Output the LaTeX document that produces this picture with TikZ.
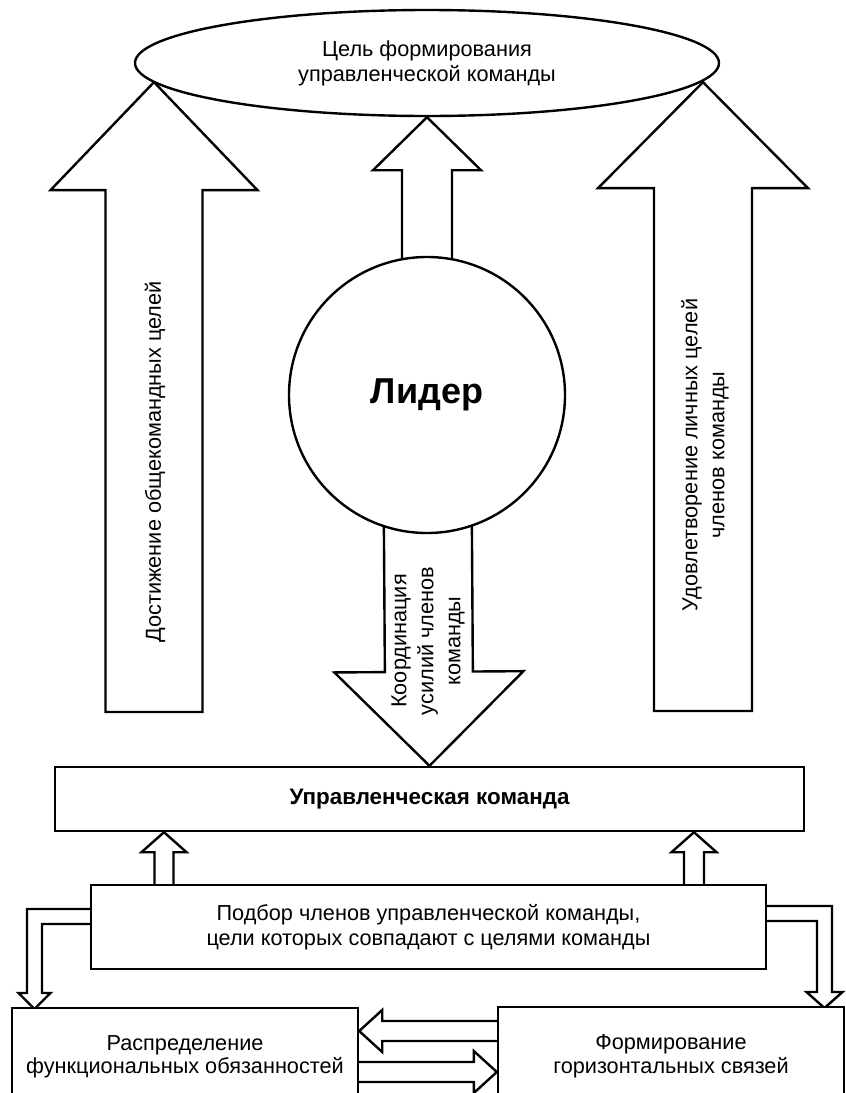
\documentclass[tikz,border=0pt]{standalone}
\usepackage{fontspec}
\setmainfont{Liberation Sans}
\usetikzlibrary{shapes.geometric,calc,backgrounds}

\tikzset{
  box/.style={draw, line width=2.4pt, fill=white, inner sep=0pt, align=center, font=\fontsize{21.7}{25}\selectfont},
  fat/.style={draw, line width=2.4pt, fill=white, line join=miter},
  vtext/.style={rotate=90, align=center, font=\fontsize{21.7}{27}\selectfont},
}

% block arrow: base, tip, half shaft, half head, head length
\newcommand{\fatarrow}[5]{%
  \coordinate (fa-neck) at ($(#2)!#5!(#1)$);
  \draw[fat] ($(#1)!#3!90:(#2)$) -- ($(fa-neck)!#3!-90:(#1)$)
    -- ($(fa-neck)!#4!-90:(#1)$) -- (#2)
    -- ($(fa-neck)!#4!90:(#1)$) -- ($(fa-neck)!#3!90:(#1)$)
    -- ($(#1)!#3!-90:(#2)$) -- cycle;}

\begin{document}
\begin{tikzpicture}[x=1pt, y=-1pt]
  \useasboundingbox (0,0) rectangle (846,1093);

  \node[box, ellipse, minimum width=584pt, minimum height=106pt] (goal) at (427,63) {Цель формирования\\управленческой команды};
  \node[box, circle, minimum size=276pt, font=\fontsize{36}{40}\selectfont\bfseries] (leader) at (427,395) {Лидер};
  \node[box, minimum width=749pt, minimum height=64pt, font=\fontsize{22.4}{25}\selectfont\bfseries] (team) at (429.5,799) {Управленческая команда};
  \node[box, minimum width=675pt, minimum height=84pt] (select) at (428.5,927) {Подбор членов управленческой команды,\\цели которых совпадают с целями команды};
  \node[box, minimum width=346pt, minimum height=98pt, font=\fontsize{21.7}{23.5}\selectfont] (distrib) at (185,1057) {Распределение\\функциональных обязанностей};
  \node[box, minimum width=346pt, minimum height=98pt, font=\fontsize{21.7}{23.5}\selectfont] (form) at (671,1056) {Формирование\\горизонтальных связей};

  \begin{scope}[on background layer]
    % big arrows to the goal
    \coordinate (aimL) at (154,712);
    \coordinate (aimR) at (703,711);
    \coordinate (tipL) at (aimL |- goal.184);
    \coordinate (tipR) at (aimR |- goal.-4);
    \fatarrow{aimL}{tipL}{48.5pt}{103.5pt}{108pt}
    \fatarrow{aimR}{tipR}{49pt}{105pt}{106pt}
    \fatarrow{leader.center}{goal.south}{25pt}{54pt}{53pt}
    \fatarrow{leader.center}{team.north}{44pt}{94.5pt}{94pt}
    % small arrows up to the team
    \coordinate (upL) at (164,927);
    \coordinate (upR) at (694,927);
    \coordinate (upLtip) at (upL |- team.south);
    \coordinate (upRtip) at (upR |- team.south);
    \fatarrow{upL}{upLtip}{9.5pt}{22.5pt}{20pt}
    \fatarrow{upR}{upRtip}{10pt}{22.5pt}{20pt}
    % side arrows down
    \draw[fat] (100,909) -- (27,909) -- (27,993) -- (18.5,993) -- (34.5,1009) -- (50.5,993) -- (42,993) -- (42,924) -- (100,924) -- cycle;
    \draw[fat] (740,906) -- (832,906) -- (832,992) -- (842.5,992) -- (824.5,1008) -- (806.5,992) -- (817,992) -- (817,921) -- (740,921) -- cycle;
    % between the bottom boxes
    \coordinate (backA) at (560,1031);
    \coordinate (backB) at (backA -| distrib.east);
    \coordinate (fwdA) at (300,1072);
    \coordinate (fwdB) at (fwdA -| form.west);
    \fatarrow{backA}{backB}{10pt}{21pt}{23pt}
    \fatarrow{fwdA}{fwdB}{10pt}{21pt}{23pt}
  \end{scope}

  \node[vtext] (goalsTxt) at (155,462) {Достижение общекомандных целей};
  \node[vtext] (selfTxt) at (705,455) {Удовлетворение личных целей\\членов команды};
  \node[vtext] (coordTxt) at (428,641) {Координация\\усилий членов\\команды};
\end{tikzpicture}
\end{document}
